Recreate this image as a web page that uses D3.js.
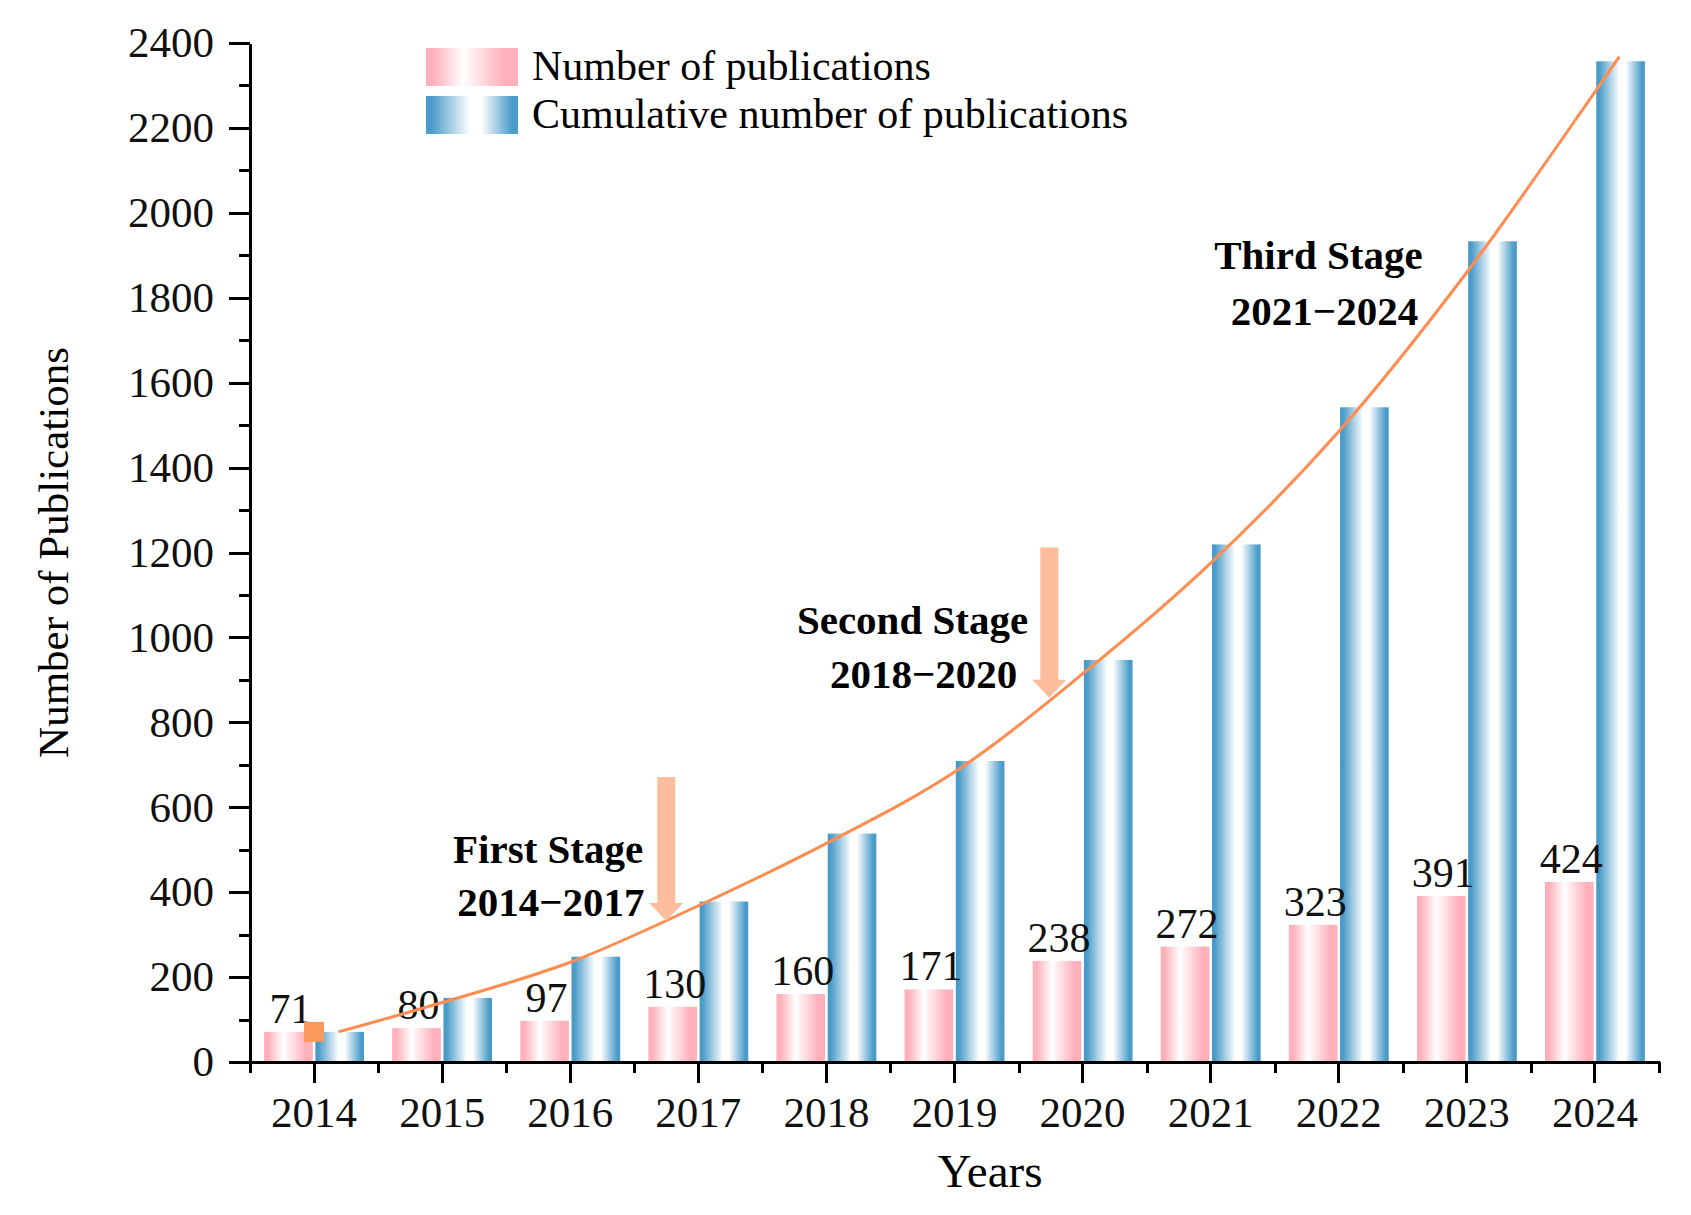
<!DOCTYPE html>
<html>
<head>
    <meta charset="utf-8">
    <style>
        body { margin: 0; background: white; }
        svg { font-family: "Liberation Serif", "Times New Roman", serif; background: white; }
        .axis path, .axis line { fill: none; stroke: #000; stroke-width: 3px; shape-rendering: crispEdges; }
        .axis text { font-size: 43px; fill: #111; font-family: "Liberation Serif", serif; }
        .val { font-size: 42px; fill: #111; text-anchor: middle; }
        .stage { font-size: 41px; font-weight: bold; fill: #000; }
    </style>
    <script src="https://d3js.org/d3.v7.min.js"></script>
    <title>Publications</title>
</head>
<body>
    <div id="chart"></div>
</body>
</html>

<script>
    // categories
    var years = ["2014", "2015", "2016", "2017", "2018", "2019", "2020", "2021", "2022", "2023", "2024"];
    // annual number of publications
    var annual = [71, 80, 97, 130, 160, 171, 238, 272, 323, 391, 424];
    // cumulative number of publications
    var cumulative = [71, 151, 248, 378, 538, 709, 947, 1219, 1542, 1933, 2357];
    // fitted trend curve
    var fitYears = [2014.19, 2015, 2016, 2017, 2018, 2019, 2020, 2021, 2022, 2023, 2024, 2024.19];
    var fitValues = [71, 140, 235, 368, 515, 683, 914, 1175, 1485, 1860, 2285, 2368];
    var yMajor = [0, 200, 400, 600, 800, 1000, 1200, 1400, 1600, 1800, 2000, 2200, 2400];
    var stages = [
        { l1: "First Stage", l2: "2014\u22122017", x1: 2016.57, x2: 2016.58, y1: 468, y2: 345, ax: 2016.75, top: 671, tip: 332 },
        { l1: "Second Stage", l2: "2018\u22122020", x1: 2019.575, x2: 2019.49, y1: 1008, y2: 882, ax: 2019.74, top: 1212, tip: 858 },
        { l1: "Third Stage", l2: "2021\u22122024", x1: 2022.655, x2: 2022.62, y1: 1868, y2: 1736 }
    ];

    var width = 1691, height = 1215;
    var margin = { top: 43, right: 32, bottom: 153, left: 250 };
    var w = width - margin.left - margin.right,
        h = height - margin.top - margin.bottom;

    var svg = d3.select("#chart").append("svg")
        .attr("width", width)
        .attr("height", height);

    var defs = svg.append("defs");
    function grad(id, c, stops) {
        var g = defs.append("linearGradient").attr("id", id)
            .attr("x1", "0%").attr("x2", "100%").attr("y1", "0%").attr("y2", "0%");
        stops.forEach(function (s) {
            g.append("stop").attr("offset", s[0]).attr("stop-color", s[1] ? "#ffffff" : c);
        });
    }
    grad("gPink", "#ffb1bb", [["0%", 0], ["8%", 0], ["40%", 1], ["85%", 0], ["100%", 0]]);
    grad("gBlue", "#4a9bc8", [["0%", 0], ["6%", 0], ["48%", 1], ["60%", 1], ["94%", 0], ["100%", 0]]);

    var g = svg.append("g")
        .attr("transform", "translate(" + margin.left + "," + margin.top + ")");

    var x = d3.scaleBand().domain(years).range([0, w]).padding(0);
    var x1 = d3.scaleBand().domain(["annual", "cum"]).range([0, x.bandwidth()])
        .paddingInner(0.05).paddingOuter(0.275);
    var xYear = d3.scaleLinear().domain([2014, 2024])
        .range([x("2014") + x.bandwidth() / 2, x("2024") + x.bandwidth() / 2]);
    var xEdge = d3.scaleLinear().domain([0, years.length]).range([0, w]);
    var y = d3.scaleLinear().domain([0, 2400]).range([h, 0]);

    // bars
    var groups = g.selectAll(".yr").data(years).enter().append("g")
        .attr("transform", function (d) { return "translate(" + x(d) + ",0)"; });

    groups.append("rect")
        .attr("x", x1("annual"))
        .attr("width", x1.bandwidth())
        .attr("y", function (d, i) { return y(annual[i]); })
        .attr("height", function (d, i) { return h - y(annual[i]); })
        .attr("fill", "url(#gPink)");

    groups.append("rect")
        .attr("x", x1("cum"))
        .attr("width", x1.bandwidth())
        .attr("y", function (d, i) { return y(cumulative[i]); })
        .attr("height", function (d, i) { return h - y(cumulative[i]); })
        .attr("fill", "url(#gBlue)");

    groups.append("text")
        .attr("class", "val")
        .attr("x", x1("annual") + x1.bandwidth() / 2 + 2)
        .attr("y", function (d, i) { return y(annual[i]) - 9; })
        .text(function (d, i) { return annual[i]; });

    // trend curve
    var line = d3.line()
        .x(function (d, i) { return xYear(fitYears[i]); })
        .y(function (d) { return y(d); })
        .curve(d3.curveCatmullRom);

    g.append("path")
        .datum(fitValues)
        .attr("d", line)
        .attr("fill", "none")
        .attr("stroke", "#ff8c50")
        .attr("stroke-width", 3);

    g.append("rect")
        .attr("x", xYear(2014) - 10)
        .attr("y", y(annual[0]) - 10)
        .attr("width", 20)
        .attr("height", 20)
        .attr("fill", "#f99a5c");

    // stage arrows
    stages.filter(function (s) { return s.ax; }).forEach(function (s) {
        var cx = xYear(s.ax), t = y(s.top), p = y(s.tip);
        var sw = 9, hw = 17, hh = 18;
        var pts = [[cx - sw, t], [cx + sw, t], [cx + sw, p - hh], [cx + hw, p - hh],
                   [cx, p], [cx - hw, p - hh], [cx - sw, p - hh]];
        g.append("path")
            .attr("d", d3.line()(pts) + "Z")
            .attr("fill", "#fcbd9c");
    });

    // stage labels
    stages.forEach(function (s) {
        g.append("text").attr("class", "stage").attr("text-anchor", "end")
            .attr("x", xYear(s.x1)).attr("y", y(s.y1)).text(s.l1);
        g.append("text").attr("class", "stage").attr("text-anchor", "end")
            .attr("x", xYear(s.x2)).attr("y", y(s.y2)).text(s.l2);
    });

    // axes
    g.append("g").attr("class", "axis")
        .attr("transform", "translate(0," + h + ")")
        .call(d3.axisBottom(xEdge).tickValues(d3.range(0, years.length + 1))
            .tickFormat("").tickSize(11).tickSizeOuter(0));

    var xAx = g.append("g").attr("class", "axis")
        .attr("transform", "translate(0," + h + ")")
        .call(d3.axisBottom(x).tickSize(21).tickSizeOuter(0).tickPadding(13));
    xAx.select(".domain").remove();

    g.append("g").attr("class", "axis")
        .call(d3.axisLeft(y).tickValues(d3.range(100, 2400, 200))
            .tickFormat("").tickSize(11).tickSizeOuter(0));

    g.append("g").attr("class", "axis")
        .call(d3.axisLeft(y).tickValues(yMajor).tickFormat(d3.format("d"))
            .tickSize(21).tickSizeOuter(0).tickPadding(15));

    // axis titles
    svg.append("text")
        .attr("transform", "translate(68," + (margin.top + h / 2) + ") rotate(-90)")
        .attr("text-anchor", "middle")
        .style("font-size", "43px")
        .text("Number of Publications");

    svg.append("text")
        .attr("x", 990)
        .attr("y", 1187)
        .attr("text-anchor", "middle")
        .style("font-size", "47px")
        .text("Years");

    // legend
    var legend = svg.append("g").attr("transform", "translate(426,48)");
    var items = [["Number of publications", "url(#gPink)"], ["Cumulative number of publications", "url(#gBlue)"]];
    items.forEach(function (it, i) {
        legend.append("rect").attr("x", 0).attr("y", i * 48)
            .attr("width", 92).attr("height", 38).attr("fill", it[1]);
        legend.append("text").attr("x", 106).attr("y", i * 48 + 32)
            .style("font-size", "42px").text(it[0]);
    });
</script>
